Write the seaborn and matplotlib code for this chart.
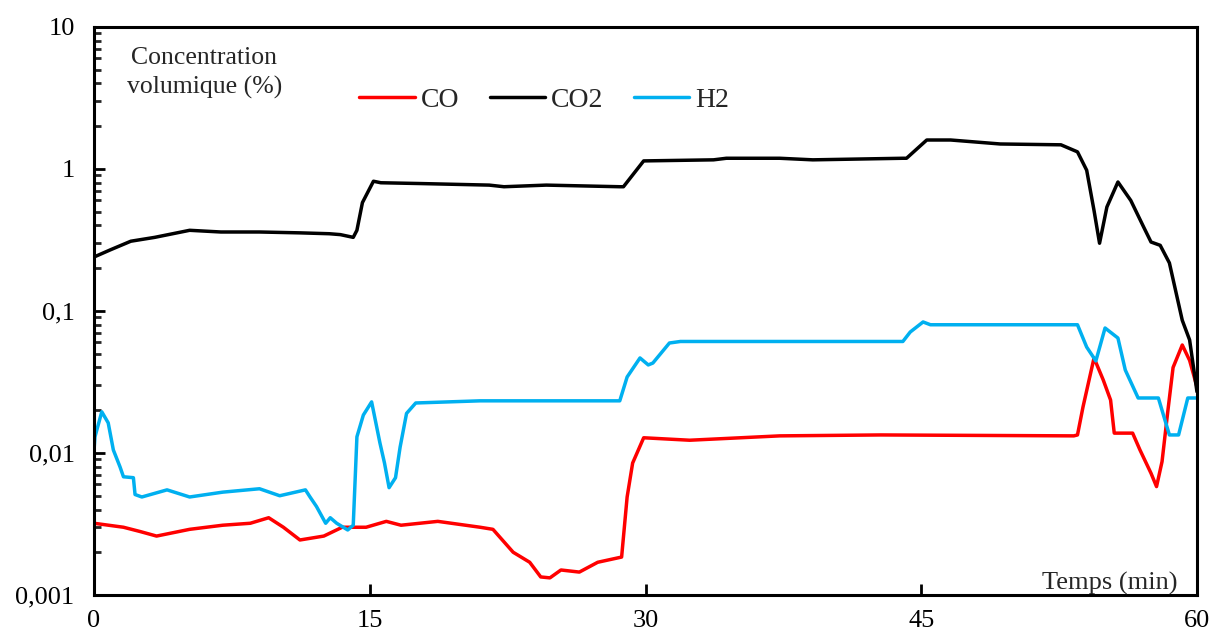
import matplotlib
matplotlib.use("Agg")
import matplotlib.pyplot as plt
import seaborn as sns
import pandas as pd
from matplotlib.ticker import FixedLocator, LogLocator, NullFormatter

# --- data (time in min, concentration in %) ---
co_t = [0, 1.6, 2.5, 3.4, 5.2, 7.0, 8.5, 9.5, 10.3, 11.2, 12.5, 13.5, 14.8, 15.9, 16.7,
        18.7, 21.0, 21.7, 22.8, 23.7, 24.3, 24.8, 25.4, 26.4, 27.4, 28.7, 29.0, 29.3, 29.9,
        32.4, 37.3, 42.8, 53.3, 53.5, 53.8, 54.4, 54.9, 55.3, 55.5, 56.5, 56.9, 57.5, 57.8,
        58.1, 58.4, 58.7, 59.2, 59.6, 60.0]
co_v = [0.0032, 0.0030, 0.0028, 0.0026, 0.0029, 0.0031, 0.0032, 0.0035, 0.0030, 0.00244,
        0.0026, 0.0030, 0.0030, 0.0033, 0.0031, 0.0033, 0.0030, 0.0029, 0.0020, 0.0017,
        0.00134, 0.00132, 0.0015, 0.00145, 0.0017, 0.00185, 0.0049, 0.0085, 0.0128, 0.0123,
        0.0132, 0.0134, 0.0132, 0.0134, 0.0211, 0.0467, 0.0327, 0.0236, 0.0138, 0.0138,
        0.0105, 0.0072, 0.0058, 0.0087, 0.019, 0.040, 0.0576, 0.0449, 0.0292]

co2_t = [0, 0.9, 2.0, 3.3, 5.2, 6.9, 9.0, 11.2, 12.8, 13.4, 14.1, 14.3, 14.6, 15.2, 15.6,
         17.7, 21.5, 22.3, 24.6, 28.6, 28.8, 29.9, 33.7, 34.4, 37.3, 39.1, 44.0, 44.2, 45.3,
         46.6, 49.3, 52.6, 53.5, 54.0, 54.4, 54.7, 55.1, 55.7, 56.4, 57.1, 57.5, 58.0, 58.5,
         59.2, 59.6, 60.0]
co2_v = [0.24, 0.27, 0.31, 0.33, 0.37, 0.36, 0.36, 0.355, 0.35, 0.345, 0.33, 0.37, 0.58,
         0.82, 0.80, 0.79, 0.77, 0.75, 0.77, 0.75, 0.75, 1.14, 1.16, 1.19, 1.19, 1.16, 1.19,
         1.19, 1.60, 1.60, 1.50, 1.48, 1.32, 0.98, 0.51, 0.30, 0.54, 0.81, 0.60, 0.39, 0.306,
         0.29, 0.218, 0.086, 0.0625, 0.027]

h2_t = [0, 0.05, 0.42, 0.77, 1.05, 1.41, 1.6, 2.14, 2.23, 2.6, 3.97, 5.2, 7.0, 9.0, 10.1,
        11.5, 11.75, 12.1, 12.6, 12.85, 13.2, 13.8, 14.1, 14.3, 14.65, 15.1, 15.55, 15.8,
        16.05, 16.4, 16.65, 17.0, 17.5, 21.0, 28.6, 29.0, 29.7, 30.15, 30.4, 31.3, 31.9,
        44.0, 44.4, 45.1, 45.5, 53.3, 53.5, 54.0, 54.5, 55.0, 55.7, 56.1, 56.8, 57.9, 58.5,
        59.0, 59.5, 60.0]
h2_v = [0.0105, 0.013, 0.0195, 0.0163, 0.0105, 0.0080, 0.0068, 0.0067, 0.0051, 0.0049,
        0.0055, 0.0049, 0.0053, 0.0056, 0.0050, 0.0055, 0.0049, 0.0042, 0.0032, 0.0035,
        0.0032, 0.00287, 0.0031, 0.013, 0.0185, 0.0229, 0.0118, 0.0085, 0.0057, 0.0067,
        0.011, 0.019, 0.0225, 0.0233, 0.0233, 0.0343, 0.0467, 0.0417, 0.043, 0.0595, 0.061,
        0.061, 0.0711, 0.0837, 0.080, 0.080, 0.080, 0.0557, 0.0445, 0.0759, 0.0645, 0.0384,
        0.0244, 0.0244, 0.0134, 0.0134, 0.0244, 0.0244]

gases = ["CO", "CO2", "H2"]
colors = {"CO": "#FF0000", "CO2": "#000000", "H2": "#00B0F0"}

y_ticks = [0.001, 0.01, 0.1, 1, 10]
y_labels = ["0,001", "0,01", "0,1", "1", "10"]
x_ticks = [0, 15, 30, 45, 60]

# tidy frame for seaborn
df = pd.concat([
    pd.DataFrame({"t": co_t, "c": co_v, "gaz": "CO"}),
    pd.DataFrame({"t": co2_t, "c": co2_v, "gaz": "CO2"}),
    pd.DataFrame({"t": h2_t, "c": h2_v, "gaz": "H2"}),
])

sns.set_style("ticks")
plt.rcParams["font.family"] = ["Liberation Serif", "DejaVu Serif"]

fig = plt.figure(figsize=(12.12, 6.35), dpi=100)
ax = fig.add_axes([0.0776, 0.063, 0.91, 0.8945])

sns.lineplot(data=df, x="t", y="c", hue="gaz", hue_order=gases, palette=colors,
             estimator=None, sort=False, linewidth=2.5, ax=ax)

ax.set_yscale("log")
ax.set_xlim(0, 60)
ax.set_ylim(0.001, 10)
ax.set_xlabel("")
ax.set_ylabel("")

ax.yaxis.set_major_locator(FixedLocator(y_ticks))
ax.set_yticklabels(y_labels)
ax.yaxis.set_minor_locator(LogLocator(base=10, subs=range(2, 10)))
ax.yaxis.set_minor_formatter(NullFormatter())
ax.set_xticks(x_ticks)
ax.set_xticklabels([str(v) for v in x_ticks])

ax.tick_params(axis="both", which="major", direction="in", length=8, width=2,
               labelsize=19, colors="black")
ax.tick_params(axis="y", which="minor", direction="in", length=5, width=2)
ax.tick_params(axis="x", which="major", pad=11)
ax.tick_params(axis="y", which="major", pad=14)

for s in ax.spines.values():
    s.set_visible(True)
    s.set_linewidth(2.2)
    s.set_color("black")

ax.legend(loc="center", bbox_to_anchor=(0.408, 0.871), ncol=3, frameon=False,
          fontsize=20, handlelength=2.0, columnspacing=1.1, handletextpad=0.2)

ax.text(0.1, 0.919, "Concentration\nvolumique (%)", transform=ax.transAxes,
        ha="center", va="center", fontsize=18.5, linespacing=1.35)
ax.text(0.982, 0.02, "Temps (min)", transform=ax.transAxes,
        ha="right", va="center", fontsize=19)

fig.savefig("out.png", dpi=100)
